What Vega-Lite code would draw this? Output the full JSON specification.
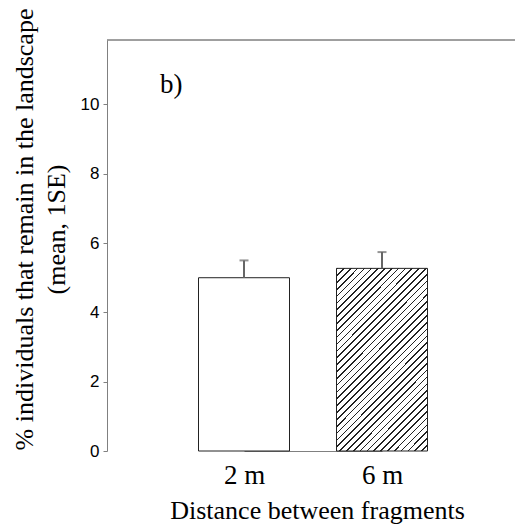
{
  "$schema": "https://vega.github.io/schema/vega-lite/v6.json",
  "width": 408,
  "height": 411,
  "autosize": {"type": "none"},
  "padding": {"left": 107, "top": 40, "right": 0, "bottom": 76},
  "background": "white",
  "config": {"view": {"stroke": null}, "axis": {"grid": false}},
  "title": {"text": "b)", "anchor": "start", "frame": "group", "dx": 53, "dy": 112, "offset": 0, "font": "Liberation Serif", "fontSize": 27, "fontWeight": "normal", "color": "black", "baseline": "alphabetic"},
  "data": {"values": [
    {"distance": "2 m", "mean": 5.0, "upper": 5.5},
    {"distance": "6 m", "mean": 5.27, "upper": 5.74}
  ]},
  "layer": [
    {
      "transform": [{"filter": "datum.distance === '2 m'"}],
      "mark": {"type": "bar", "fill": "white", "stroke": "#222", "strokeWidth": 1, "size": 91},
      "encoding": {
        "x": {"field": "distance", "type": "nominal",
          "scale": {"type": "point", "domain": ["2 m", "6 m"], "range": [137, 275], "padding": 0},
          "axis": {"title": "Distance between fragments", "titleFont": "Liberation Serif", "titleFontSize": 26, "titleFontWeight": "normal", "titleColor": "black", "titleX": 210, "titleY": 67, "titleBaseline": "alphabetic", "titleAnchor": null,
            "labelFont": "Liberation Serif", "labelFontSize": 27, "labelColor": "black", "labelAngle": 0, "ticks": false, "tickSize": 0, "labelPadding": 32, "labelBaseline": "alphabetic", "domainColor": "#808080", "domainWidth": 1,
            "encode": {"labels": {"update": {"dy": {"signal": "datum.value === '6 m' ? -4 : 0"}}}}}},
        "y": {"field": "mean", "type": "quantitative",
          "scale": {"domain": [0, 11.86], "nice": false, "zero": true},
          "axis": {"title": ["% individuals that remain in the landscape", "(mean, 1SE)"], "titleFont": "Liberation Serif", "titleFontSize": 26, "titleFontWeight": "normal", "titleColor": "black", "titleLineHeight": 32.5, "titleX": -83, "titleY": 189, "titleBaseline": "middle", "titleAlign": "center", "titleAngle": -90,
            "values": [0, 2, 4, 6, 8, 10], "labelFont": "Liberation Sans", "labelFontSize": 17, "labelColor": "black", "tickSize": 4, "tickColor": "#808080", "labelPadding": 4, "domainColor": "#808080", "domainWidth": 1}}
      }
    },
    {
      "transform": [{"filter": "datum.distance === '6 m'"}],
      "mark": {"type": "bar", "stroke": "#222", "strokeWidth": 1, "size": 91,
        "fill": {"gradient": "linear", "x1": 0, "y1": 0, "x2": 0.6, "y2": 1.2, "stops": [
          {"offset": 0, "color": "#222"}, {"offset": 0.006, "color": "#222"}, {"offset": 0.006, "color": "#fff"}, {"offset": 0.025, "color": "#fff"},
          {"offset": 0.025, "color": "#222"}, {"offset": 0.031, "color": "#222"}, {"offset": 0.031, "color": "#fff"}, {"offset": 0.05, "color": "#fff"},
          {"offset": 0.05, "color": "#222"}, {"offset": 0.056, "color": "#222"}, {"offset": 0.056, "color": "#fff"}, {"offset": 0.075, "color": "#fff"},
          {"offset": 0.075, "color": "#222"}, {"offset": 0.081, "color": "#222"}, {"offset": 0.081, "color": "#fff"}, {"offset": 0.1, "color": "#fff"},
          {"offset": 0.1, "color": "#222"}, {"offset": 0.106, "color": "#222"}, {"offset": 0.106, "color": "#fff"}, {"offset": 0.125, "color": "#fff"},
          {"offset": 0.125, "color": "#222"}, {"offset": 0.131, "color": "#222"}, {"offset": 0.131, "color": "#fff"}, {"offset": 0.15, "color": "#fff"},
          {"offset": 0.15, "color": "#222"}, {"offset": 0.156, "color": "#222"}, {"offset": 0.156, "color": "#fff"}, {"offset": 0.175, "color": "#fff"},
          {"offset": 0.175, "color": "#222"}, {"offset": 0.181, "color": "#222"}, {"offset": 0.181, "color": "#fff"}, {"offset": 0.2, "color": "#fff"},
          {"offset": 0.2, "color": "#222"}, {"offset": 0.206, "color": "#222"}, {"offset": 0.206, "color": "#fff"}, {"offset": 0.225, "color": "#fff"},
          {"offset": 0.225, "color": "#222"}, {"offset": 0.231, "color": "#222"}, {"offset": 0.231, "color": "#fff"}, {"offset": 0.25, "color": "#fff"},
          {"offset": 0.25, "color": "#222"}, {"offset": 0.256, "color": "#222"}, {"offset": 0.256, "color": "#fff"}, {"offset": 0.275, "color": "#fff"},
          {"offset": 0.275, "color": "#222"}, {"offset": 0.281, "color": "#222"}, {"offset": 0.281, "color": "#fff"}, {"offset": 0.3, "color": "#fff"},
          {"offset": 0.3, "color": "#222"}, {"offset": 0.306, "color": "#222"}, {"offset": 0.306, "color": "#fff"}, {"offset": 0.325, "color": "#fff"},
          {"offset": 0.325, "color": "#222"}, {"offset": 0.331, "color": "#222"}, {"offset": 0.331, "color": "#fff"}, {"offset": 0.35, "color": "#fff"},
          {"offset": 0.35, "color": "#222"}, {"offset": 0.356, "color": "#222"}, {"offset": 0.356, "color": "#fff"}, {"offset": 0.375, "color": "#fff"},
          {"offset": 0.375, "color": "#222"}, {"offset": 0.381, "color": "#222"}, {"offset": 0.381, "color": "#fff"}, {"offset": 0.4, "color": "#fff"},
          {"offset": 0.4, "color": "#222"}, {"offset": 0.406, "color": "#222"}, {"offset": 0.406, "color": "#fff"}, {"offset": 0.425, "color": "#fff"},
          {"offset": 0.425, "color": "#222"}, {"offset": 0.431, "color": "#222"}, {"offset": 0.431, "color": "#fff"}, {"offset": 0.45, "color": "#fff"},
          {"offset": 0.45, "color": "#222"}, {"offset": 0.456, "color": "#222"}, {"offset": 0.456, "color": "#fff"}, {"offset": 0.475, "color": "#fff"},
          {"offset": 0.475, "color": "#222"}, {"offset": 0.481, "color": "#222"}, {"offset": 0.481, "color": "#fff"}, {"offset": 0.5, "color": "#fff"},
          {"offset": 0.5, "color": "#222"}, {"offset": 0.506, "color": "#222"}, {"offset": 0.506, "color": "#fff"}, {"offset": 0.525, "color": "#fff"},
          {"offset": 0.525, "color": "#222"}, {"offset": 0.531, "color": "#222"}, {"offset": 0.531, "color": "#fff"}, {"offset": 0.55, "color": "#fff"},
          {"offset": 0.55, "color": "#222"}, {"offset": 0.556, "color": "#222"}, {"offset": 0.556, "color": "#fff"}, {"offset": 0.575, "color": "#fff"},
          {"offset": 0.575, "color": "#222"}, {"offset": 0.581, "color": "#222"}, {"offset": 0.581, "color": "#fff"}, {"offset": 0.6, "color": "#fff"},
          {"offset": 0.6, "color": "#222"}, {"offset": 0.606, "color": "#222"}, {"offset": 0.606, "color": "#fff"}, {"offset": 0.625, "color": "#fff"},
          {"offset": 0.625, "color": "#222"}, {"offset": 0.631, "color": "#222"}, {"offset": 0.631, "color": "#fff"}, {"offset": 0.65, "color": "#fff"},
          {"offset": 0.65, "color": "#222"}, {"offset": 0.656, "color": "#222"}, {"offset": 0.656, "color": "#fff"}, {"offset": 0.675, "color": "#fff"},
          {"offset": 0.675, "color": "#222"}, {"offset": 0.681, "color": "#222"}, {"offset": 0.681, "color": "#fff"}, {"offset": 0.7, "color": "#fff"},
          {"offset": 0.7, "color": "#222"}, {"offset": 0.706, "color": "#222"}, {"offset": 0.706, "color": "#fff"}, {"offset": 0.725, "color": "#fff"},
          {"offset": 0.725, "color": "#222"}, {"offset": 0.731, "color": "#222"}, {"offset": 0.731, "color": "#fff"}, {"offset": 0.75, "color": "#fff"},
          {"offset": 0.75, "color": "#222"}, {"offset": 0.756, "color": "#222"}, {"offset": 0.756, "color": "#fff"}, {"offset": 0.775, "color": "#fff"},
          {"offset": 0.775, "color": "#222"}, {"offset": 0.781, "color": "#222"}, {"offset": 0.781, "color": "#fff"}, {"offset": 0.8, "color": "#fff"},
          {"offset": 0.8, "color": "#222"}, {"offset": 0.806, "color": "#222"}, {"offset": 0.806, "color": "#fff"}, {"offset": 0.825, "color": "#fff"},
          {"offset": 0.825, "color": "#222"}, {"offset": 0.831, "color": "#222"}, {"offset": 0.831, "color": "#fff"}, {"offset": 0.85, "color": "#fff"},
          {"offset": 0.85, "color": "#222"}, {"offset": 0.856, "color": "#222"}, {"offset": 0.856, "color": "#fff"}, {"offset": 0.875, "color": "#fff"},
          {"offset": 0.875, "color": "#222"}, {"offset": 0.881, "color": "#222"}, {"offset": 0.881, "color": "#fff"}, {"offset": 0.9, "color": "#fff"},
          {"offset": 0.9, "color": "#222"}, {"offset": 0.906, "color": "#222"}, {"offset": 0.906, "color": "#fff"}, {"offset": 0.925, "color": "#fff"},
          {"offset": 0.925, "color": "#222"}, {"offset": 0.931, "color": "#222"}, {"offset": 0.931, "color": "#fff"}, {"offset": 0.95, "color": "#fff"},
          {"offset": 0.95, "color": "#222"}, {"offset": 0.956, "color": "#222"}, {"offset": 0.956, "color": "#fff"}, {"offset": 0.975, "color": "#fff"},
          {"offset": 0.975, "color": "#222"}, {"offset": 0.981, "color": "#222"}, {"offset": 0.981, "color": "#fff"}, {"offset": 1, "color": "#fff"}
        ]}},
      "encoding": {
        "x": {"field": "distance", "type": "nominal"},
        "y": {"field": "mean", "type": "quantitative"}
      }
    },
    {
      "mark": {"type": "rule", "color": "#666", "strokeWidth": 2},
      "encoding": {
        "x": {"field": "distance", "type": "nominal"},
        "y": {"field": "mean", "type": "quantitative"},
        "y2": {"field": "upper"}
      }
    },
    {
      "mark": {"type": "tick", "color": "#666", "size": 9, "thickness": 2, "orient": "horizontal"},
      "encoding": {
        "x": {"field": "distance", "type": "nominal"},
        "y": {"field": "upper", "type": "quantitative"}
      }
    },
    {
      "mark": {"type": "rule", "color": "#808080", "strokeWidth": 1},
      "encoding": {"y": {"datum": 11.86}}
    }
  ]
}
